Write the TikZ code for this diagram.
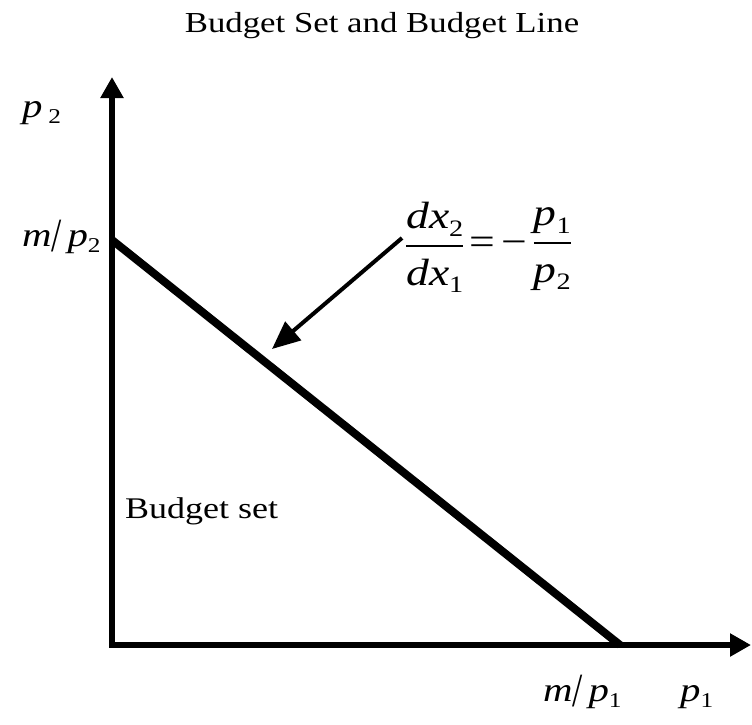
\documentclass[tikz,border=0pt]{standalone}
\usepackage{graphicx}
\usepackage{fontspec}
\setmainfont{Liberation Serif}[FakeStretch=1.2]
\usetikzlibrary{arrows.meta}
\newcommand\vi[1]{\textit{#1}}
\newcommand\sub[1]{\raisebox{-0.2em}{\scalebox{0.62}{#1}}}
\newcommand\tslash{\raisebox{-0.15em}{\scalebox{0.9}[1.4]{/}}}
\newcommand\fr[2]{\begin{tabular}[c]{@{}c@{}}\rule[-0.42em]{0pt}{0pt}#1\\\hline\rule{0pt}{1.0em}#2\end{tabular}}
\begin{document}
\begin{tikzpicture}[x=1pt,y=-1pt,
  axis/.style={line width=6pt,-{Triangle[length=21pt,width=22pt]}},
  bline/.style={line width=8pt},
  pointer/.style={line width=4pt,-{Triangle[length=28pt,width=24pt]}},
  lbl/.style={inner sep=0pt,font=\fontsize{34}{40}\selectfont},
  txt/.style={inner sep=0pt,font=\fontsize{30}{36}\selectfont}]
\useasboundingbox (0,0) rectangle (752,724);
\coordinate (O) at (112,645);
\coordinate (Y) at (112,77);
\coordinate (X) at (751,645);
\coordinate (A) at (112,240);
\coordinate (B) at (620,645);
\coordinate (T) at (272,349);
\draw[axis] (O) -- (Y);
\draw[axis] ([xshift=-3pt]O) -- (X);
\draw[bline] (A) -- (B);
\node[txt,font=\fontsize{29}{35}\selectfont,anchor=base] (title) at (382,32) {Budget Set and Budget Line};
\node[lbl,anchor=base west] (p2) at (22,117) {\vi{p}\,\sub{2}};
\node[lbl,anchor=base west] (mp2) at (22,246) {\vi{m}\tslash\,\vi{p}\sub{2}};
\node[lbl,anchor=base west] (mp1) at (543,701) {\vi{m}\tslash\,\vi{p}\sub{1}};
\node[lbl,anchor=base west] (p1) at (680,701) {\vi{p}\sub{1}};
\node[txt,anchor=base west] (bs) at (125,518) {Budget set};
\node[inner sep=0pt,anchor=north west,
  font=\fontsize{38}{30}\selectfont\setlength\arrayrulewidth{2.5pt}] (frac) at (406,202)
  {\fr{\vi{dx}\sub{2}}{\vi{dx}\sub{1}}\,=\,−\,\fr{\vi{p}\sub{1}}{\vi{p}\sub{2}}};
\coordinate (S) at ([xshift=-4pt]frac.west |- 0,238);
\draw[pointer] (S) -- (T);
\end{tikzpicture}
\end{document}
